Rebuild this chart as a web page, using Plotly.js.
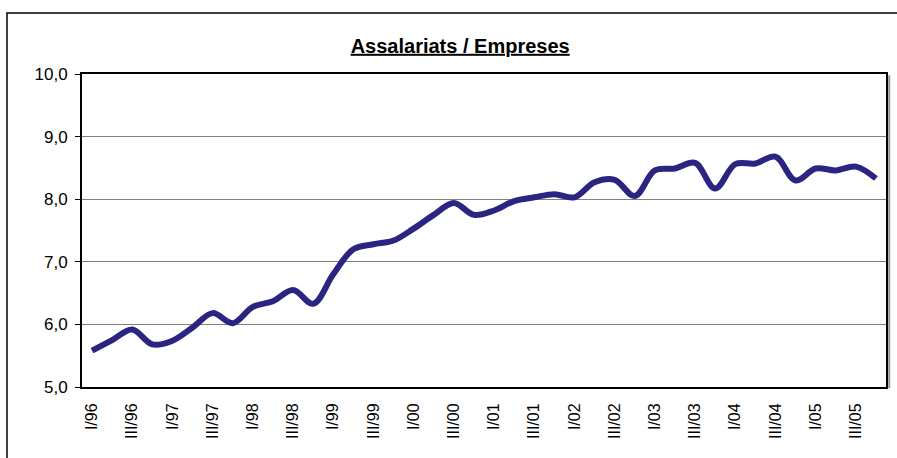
<!DOCTYPE html>
<html>
<head>
<meta charset="utf-8">
<script src="https://cdn.plot.ly/plotly-3.0.1.min.js"></script>
<style>
  html, body { margin: 0; padding: 0; background: #fff; }
  #chart { width: 897px; height: 458px; }
</style>
</head>
<body>
<div id="chart"></div>
<script>
// Quarterly categories I/96 .. IV/05
const quarters = ["I/96","II/96","III/96","IV/96","I/97","II/97","III/97","IV/97",
  "I/98","II/98","III/98","IV/98","I/99","II/99","III/99","IV/99",
  "I/00","II/00","III/00","IV/00","I/01","II/01","III/01","IV/01",
  "I/02","II/02","III/02","IV/02","I/03","II/03","III/03","IV/03",
  "I/04","II/04","III/04","IV/04","I/05","II/05","III/05","IV/05"];

// Assalariats / Empreses (employees per firm)
const ratio = [5.58,5.75,5.92,5.68, 5.74,5.95,6.18,6.02,
  6.28,6.37,6.55,6.33, 6.80,7.20,7.28,7.34,
  7.53,7.75,7.94,7.75, 7.82,7.97,8.03,8.08,
  8.03,8.27,8.31,8.05, 8.46,8.49,8.58,8.17,
  8.56,8.57,8.68,8.30, 8.49,8.46,8.52,8.33];

// Tick labels shown on the x axis (every second quarter)
const xTickLabels = ["I/96","III/96","I/97","III/97","I/98","III/98","I/99","III/99",
  "I/00","III/00","I/01","III/01","I/02","III/02","I/03","III/03",
  "I/04","III/04","I/05","III/05"];

const yTicks = [5, 6, 7, 8, 9, 10];

const trace = {
  x: quarters,
  y: ratio,
  type: 'scatter',
  mode: 'lines',
  line: { color: '#2b2480', width: 6, shape: 'spline', smoothing: 1 },
  hoverinfo: 'x+y'
};

const layout = {
  width: 897,
  height: 458,
  margin: { l: 82, r: 11, t: 74, b: 71 },
  paper_bgcolor: '#ffffff',
  plot_bgcolor: '#ffffff',
  separators: ',.',
  showlegend: false,
  font: { family: 'Arial, "Liberation Sans", sans-serif', color: '#000', size: 16 },
  title: {
    text: '<u><b>Assalariats / Empreses</b></u>',
    font: { family: 'Arial, "Liberation Sans", sans-serif', size: 20, color: '#000' },
    x: 0.513, xref: 'container', xanchor: 'center',
    y: 0.90, yref: 'container', yanchor: 'middle'
  },
  xaxis: {
    type: 'category',
    categoryarray: quarters,
    range: [-0.5, quarters.length - 0.5],
    tickmode: 'array',
    tickvals: xTickLabels,
    ticktext: xTickLabels,
    tickangle: -90,
    ticks: '',
    ticklabelstandoff: 8,
    showgrid: false,
    zeroline: false,
    showline: true,
    linecolor: '#000',
    linewidth: 2,
    mirror: true,
    tickfont: { size: 16 },
    fixedrange: true
  },
  yaxis: {
    range: [5, 10],
    tickmode: 'array',
    tickvals: yTicks,
    tickformat: '.1f',
    ticks: 'outside',
    ticklen: 5,
    tickcolor: '#000',
    tickwidth: 1,
    ticklabelstandoff: 4,
    showgrid: true,
    gridcolor: '#808080',
    gridwidth: 1,
    zeroline: false,
    showline: true,
    linecolor: '#000',
    linewidth: 2,
    mirror: true,
    tickfont: { size: 17 },
    fixedrange: true
  },
  shapes: [
    {
      type: 'rect', xref: 'paper', yref: 'paper',
      x0: -0.0933, x1: 1.03, y0: -0.3, y1: 1.195,
      line: { color: '#000', width: 1.5 },
      layer: 'below'
    },
    {
      type: 'line', xref: 'paper', yref: 'paper',
      x0: 1.004, x1: 1.004, y0: -0.004, y1: 0.996,
      line: { color: '#9a9a9a', width: 2 }
    }
  ]
};

Plotly.newPlot('chart', [trace], layout, { displayModeBar: false, staticPlot: true });
</script>
</body>
</html>
